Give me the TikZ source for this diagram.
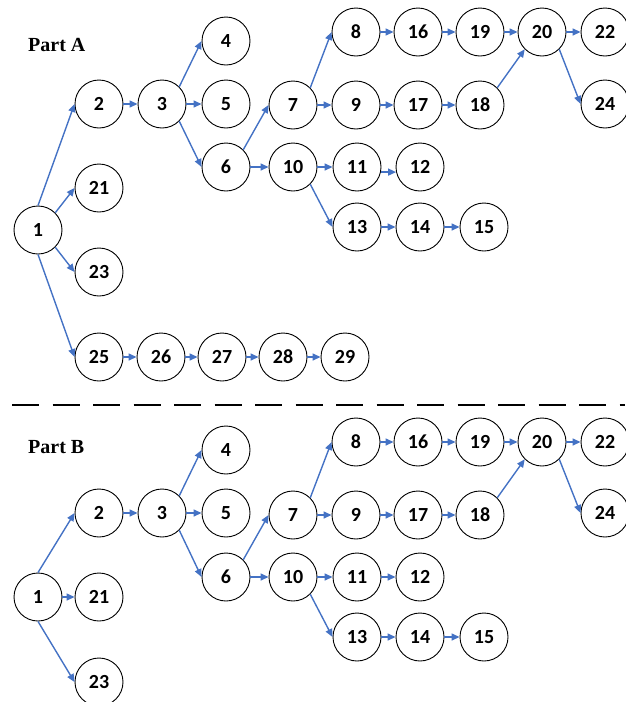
\documentclass[tikz,border=0pt]{standalone}
\usepackage{fontspec}
\newfontfamily\numfont{Carlito}
\setmainfont{Liberation Serif}
\usetikzlibrary{arrows.meta}
\definecolor{linkblue}{HTML}{4472C4}
\tikzset{
  task/.style={circle, draw=black, line width=0.9pt, minimum size=48pt, inner sep=0pt,
    font=\numfont\bfseries\fontsize{20}{24}\selectfont},
  link/.style={draw=linkblue, line width=1.4pt, -{Triangle[length=8pt,width=7pt]}},
  parttitle/.style={font=\bfseries\fontsize{20}{24}\selectfont, anchor=west, inner sep=0pt},
  divider/.style={line width=1.8pt, dash pattern=on 27pt off 13.5pt}
}
\begin{document}
\begin{tikzpicture}[x=1pt,y=-1pt]
\useasboundingbox (0,0) rectangle (625,702);

% ---------- Part A ----------
\node[parttitle] (titleA) at (28,45) {Part A};
\node[task] (a1)  at (38,230)  {1};
\node[task] (a2)  at (99,104)  {2};
\node[task] (a3)  at (162,104) {3};
\node[task] (a4)  at (226,41)  {4};
\node[task] (a5)  at (226,104) {5};
\node[task] (a6)  at (226,167) {6};
\node[task] (a7)  at (293,105) {7};
\node[task] (a8)  at (356,32)  {8};
\node[task] (a9)  at (356,105) {9};
\node[task] (a10) at (293,167) {10};
\node[task] (a11) at (357,167) {11};
\node[task] (a12) at (420,167) {12};
\node[task] (a13) at (357,227) {13};
\node[task] (a14) at (420,227) {14};
\node[task] (a15) at (484,227) {15};
\node[task] (a16) at (418,32)  {16};
\node[task] (a17) at (418,105) {17};
\node[task] (a18) at (480,105) {18};
\node[task] (a19) at (480,32)  {19};
\node[task] (a20) at (542,32)  {20};
\node[task] (a22) at (605,32)  {22};
\node[task] (a24) at (605,104) {24};
\node[task] (a21) at (99,188)  {21};
\node[task] (a23) at (99,272)  {23};
\node[task] (a25) at (99,357)  {25};
\node[task] (a26) at (161,357) {26};
\node[task] (a27) at (222,357) {27};
\node[task] (a28) at (283,357) {28};
\node[task] (a29) at (345,357) {29};

\draw[link] (a1.north) -- (a2.west);
\draw[link] (a1.north east) -- (a21.west);
\draw[link] (a1.south east) -- (a23.west);
\draw[link] (a1.south) -- (a25.west);
\draw[link] (a2.east) -- (a3.west);
\draw[link] (a3.north east) -- (a4.west);
\draw[link] (a3.east) -- (a5.west);
\draw[link] (a3.south east) -- (a6.west);
\draw[link] (a6.north east) -- (a7.west);
\draw[link] (a6.east) -- (a10.west);
\draw[link] (a7.north east) -- (a8.west);
\draw[link] (a7.east) -- (a9.west);
\draw[link] (a8.east) -- (a16.west);
\draw[link] (a16.east) -- (a19.west);
\draw[link] (a19.east) -- (a20.west);
\draw[link] (a20.east) -- (a22.west);
\draw[link] (a9.east) -- (a17.west);
\draw[link] (a17.east) -- (a18.west);
\draw[link] (a18.north east) -- (a20.south west);
\draw[link] (a20.south east) -- (a24.west);
\draw[link] (a10.east) -- (a11.west);
\draw[link] (a10.south east) -- (a13.west);
\draw[link] (a11.-12) -- (a12.192);
\draw[link] (a13.east) -- (a14.west);
\draw[link] (a14.east) -- (a15.west);
\draw[link] (a25.east) -- (a26.west);
\draw[link] (a26.east) -- (a27.west);
\draw[link] (a27.east) -- (a28.west);
\draw[link] (a28.east) -- (a29.west);

% ---------- divider ----------
\coordinate (divL) at (12,405);
\coordinate (divR) at (625,405);
\draw[divider] (divL) -- (divR);

% ---------- Part B ----------
\node[parttitle] (titleB) at (28,447) {Part B};
\node[task] (b1)  at (38,597)  {1};
\node[task] (b2)  at (99,513)  {2};
\node[task] (b3)  at (162,513) {3};
\node[task] (b4)  at (226,450) {4};
\node[task] (b5)  at (226,513) {5};
\node[task] (b6)  at (226,577) {6};
\node[task] (b7)  at (293,515) {7};
\node[task] (b8)  at (356,442) {8};
\node[task] (b9)  at (356,515) {9};
\node[task] (b10) at (293,577) {10};
\node[task] (b11) at (357,577) {11};
\node[task] (b12) at (420,577) {12};
\node[task] (b13) at (357,637) {13};
\node[task] (b14) at (420,637) {14};
\node[task] (b15) at (484,637) {15};
\node[task] (b16) at (418,442) {16};
\node[task] (b17) at (418,515) {17};
\node[task] (b18) at (480,515) {18};
\node[task] (b19) at (480,442) {19};
\node[task] (b20) at (542,442) {20};
\node[task] (b22) at (605,442) {22};
\node[task] (b24) at (605,513) {24};
\node[task] (b21) at (99,597)  {21};
\node[task] (b23) at (99,682)  {23};

\draw[link] (b1.north) -- (b2.west);
\draw[link] (b1.east) -- (b21.west);
\draw[link] (b1.south) -- (b23.west);
\draw[link] (b2.east) -- (b3.west);
\draw[link] (b3.north east) -- (b4.west);
\draw[link] (b3.east) -- (b5.west);
\draw[link] (b3.south east) -- (b6.west);
\draw[link] (b6.north east) -- (b7.west);
\draw[link] (b6.east) -- (b10.west);
\draw[link] (b7.north east) -- (b8.west);
\draw[link] (b7.east) -- (b9.west);
\draw[link] (b8.east) -- (b16.west);
\draw[link] (b16.east) -- (b19.west);
\draw[link] (b19.east) -- (b20.west);
\draw[link] (b20.east) -- (b22.west);
\draw[link] (b9.east) -- (b17.west);
\draw[link] (b17.east) -- (b18.west);
\draw[link] (b18.north east) -- (b20.south west);
\draw[link] (b20.south east) -- (b24.west);
\draw[link] (b10.east) -- (b11.west);
\draw[link] (b10.south east) -- (b13.west);
\draw[link] (b11.east) -- (b12.west);
\draw[link] (b13.east) -- (b14.west);
\draw[link] (b14.east) -- (b15.west);
\end{tikzpicture}
\end{document}
